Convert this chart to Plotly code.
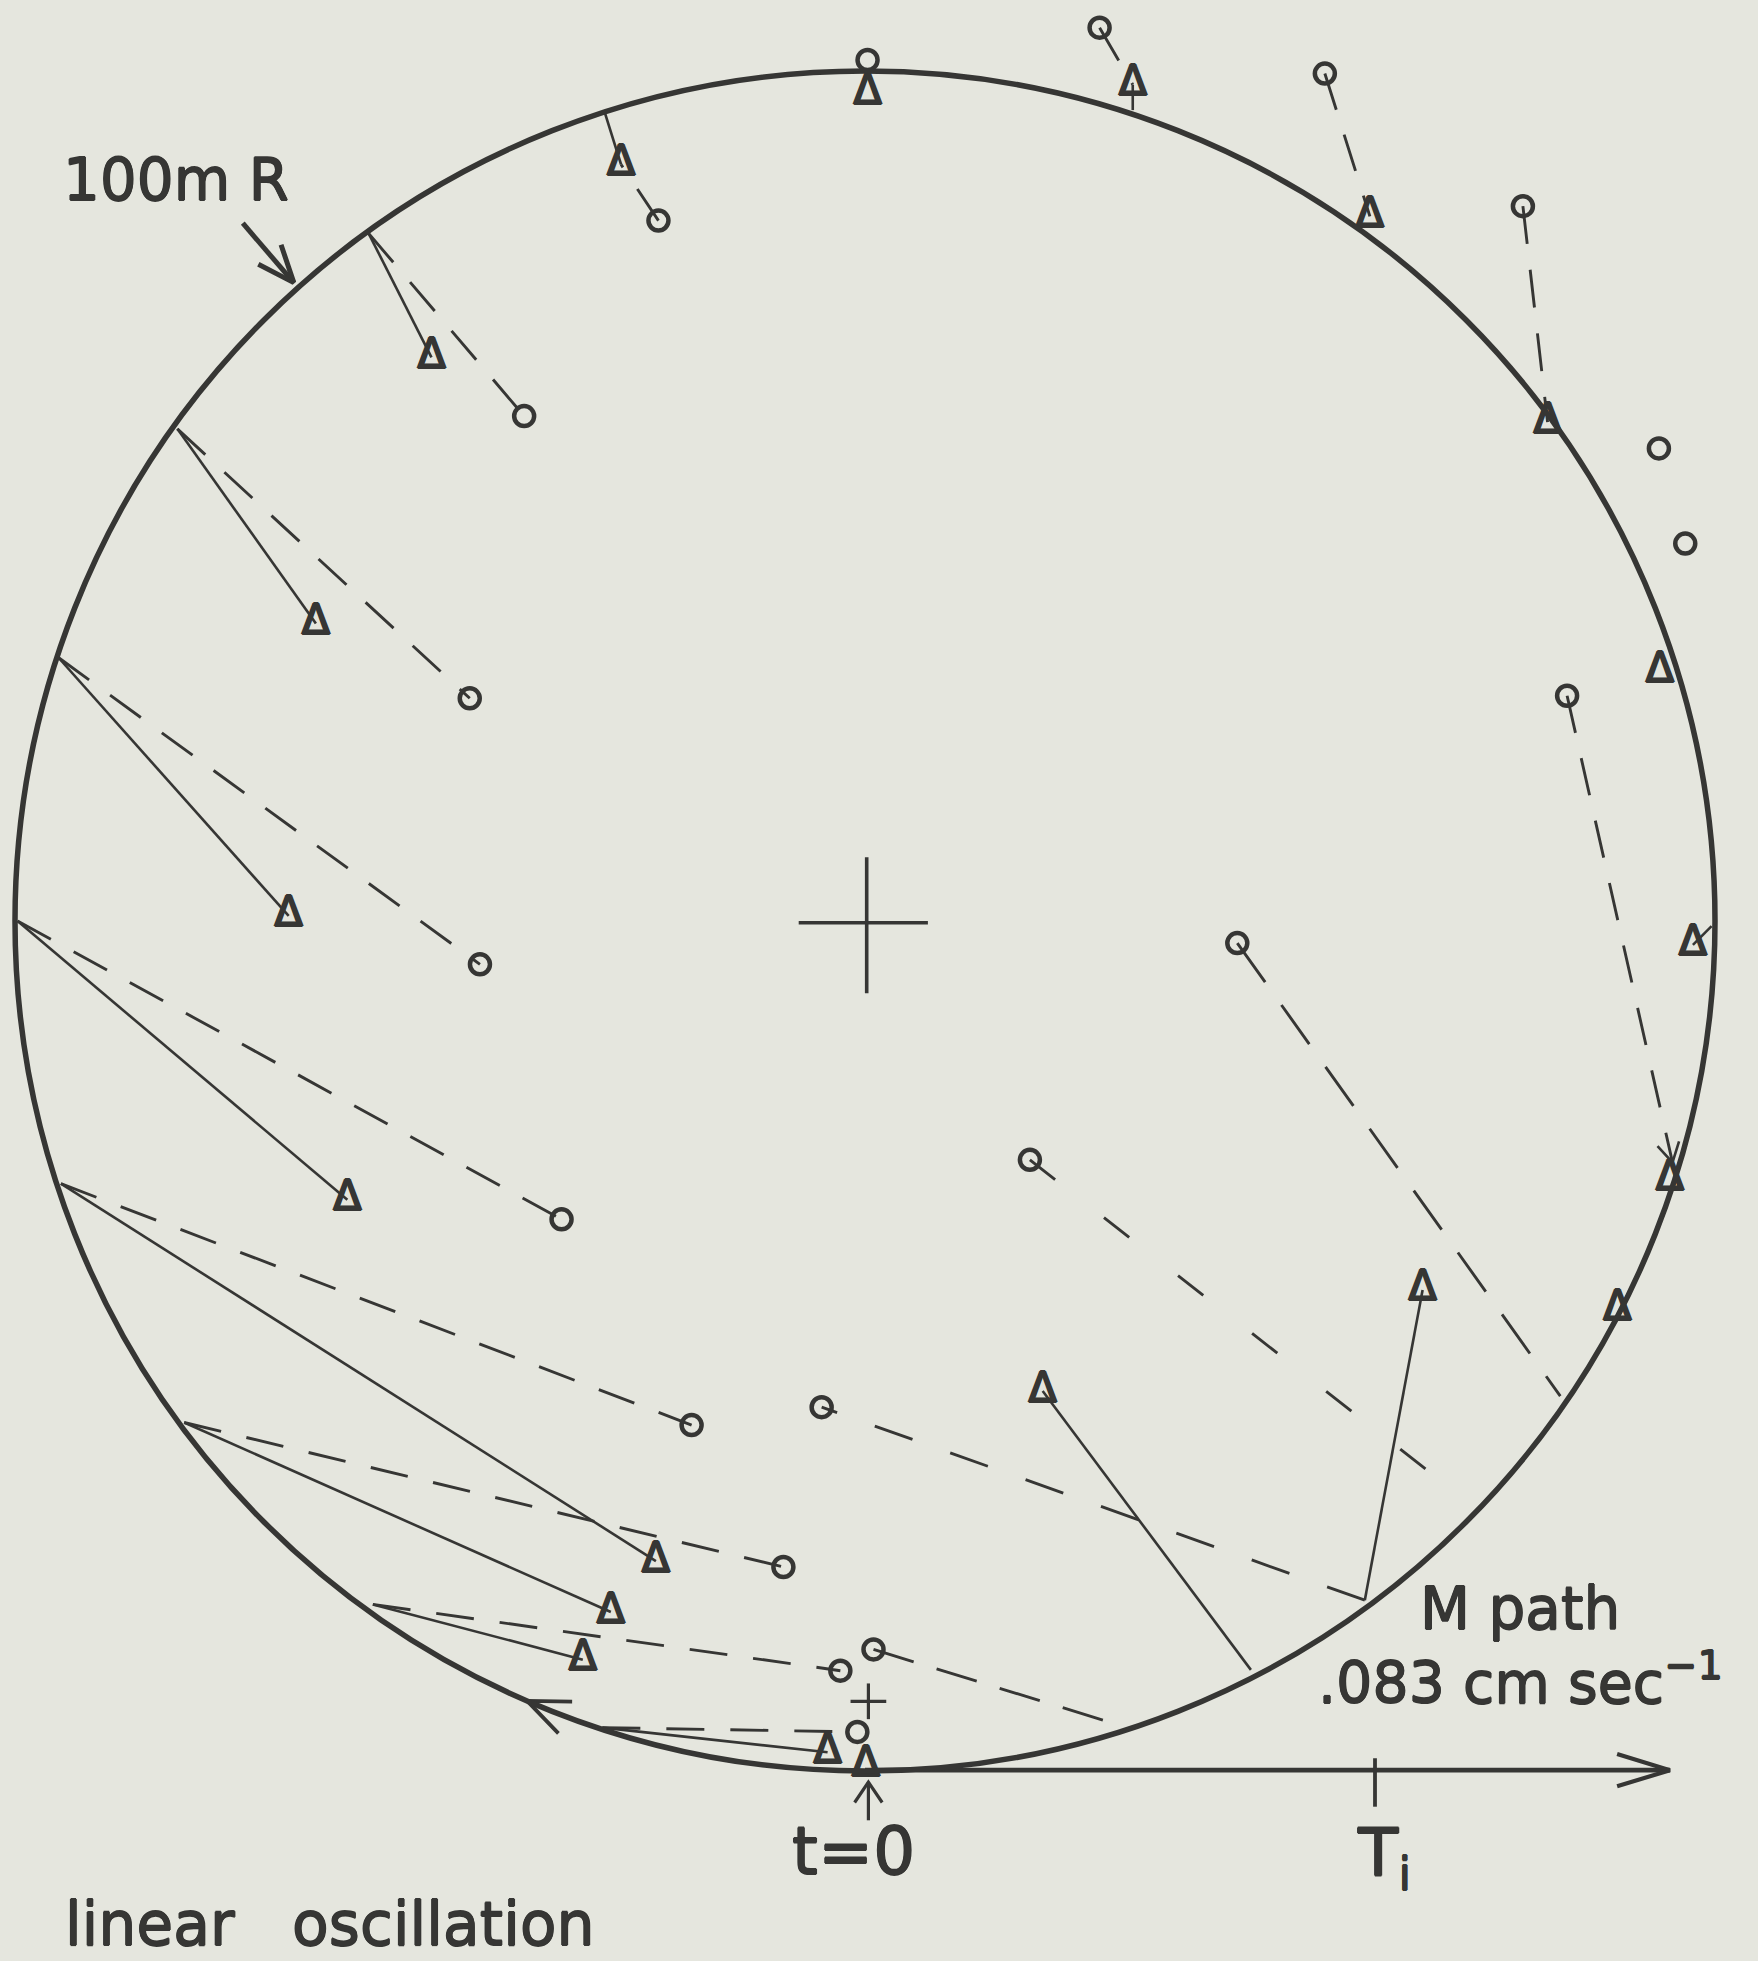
import math
import plotly.graph_objects as go

# ---------------------------------------------------------------------------
# Positions in metres, measured from the centre of the 100 m inertial circle
# ---------------------------------------------------------------------------
circle_radius = 100.0

# observed positions (o)
obs_x = [0.3, 27.6, 54.1, 77.4, 93.4, 96.5, 82.6, 43.8, 19.4, -5.1, 1.0, -2.9, -0.9,
         -24.3, -40.1, -46.5, -45.3, -35.7, -20.4, -9.6]
obs_y = [101.3, 105.1, 99.7, 84.1, 55.6, 44.4, 26.5, -2.6, -28.1, -57.2, -85.7, -88.2, -95.4,
         82.4, 59.4, 26.2, -5.1, -35.1, -59.3, -76.0]

# predicted positions (triangles); index 11 is the t = 0 point
pred_x = [0.3, 31.5, 59.4, 80.3, 93.5, 97.4, 94.7, 88.5, 65.6, 20.9, -4.4, 0.1,
          -28.7, -51.0, -64.6, -67.8, -60.9, -24.6, -29.9, -33.2]
pred_y = [97.4, 98.4, 82.9, 58.7, 29.4, -2.8, -30.4, -45.7, -43.4, -55.3, -97.8, -99.4,
          89.0, 66.3, 35.0, 0.6, -32.8, -75.3, -81.3, -86.9]

# release points on the circle, with the predicted / observed position each one leads to
release_x = [31.5, 99.6, 58.8, 45.4, -30.7, -58.4, -80.9, -94.9, -99.7, -94.6, -80.1, -57.9, -30.9]
release_y = [95.4, -0.6, -79.9, -88.1, 95.4, 80.9, 57.9, 31.0, 0.0, -30.9, -59.0, -80.4, -94.9]
release_pred = [1, 5, 8, 9, 12, 13, 14, 15, 16, 17, 18, 19, 10]
release_obs = [None, None, 9, None, None, 14, 15, 16, 17, 18, 19, 11, 12]

# dashed links observed -> predicted (obs index, pred index)
obs_pred_links = [(1, 1), (2, 2), (3, 3), (13, 12)]

# dashed tracks from observed positions back to the circle
track_obs = [6, 7, 8, 10]
track_end_x = [95.0, 81.8, 69.7, 29.9]
track_end_y = [-28.4, -55.9, -67.4, -94.6]

# mean (M) path along the bottom tangent, starting at t = 0
m_path_y = -99.9
m_path_start = 0.0
m_path_end = 94.7
inertial_period_x = 60.0

# small reference cross above t = 0
small_cross = (0.4, -91.8)

# ---------------------------------------------------------------------------
# Styling
# ---------------------------------------------------------------------------
BG = "#e5e6de"
INK = "#363634"
FONT = "DejaVu Sans"
PX_PER_M = 8.5
CENTRE_PX = (865, 921)
FIG_W, FIG_H = 1758, 1961


def thicken(px):
    return ", ".join(f"{dx}px {dy}px 0 {INK}" for dx, dy in
                     ((px, 0), (-px, 0), (0, px), (0, -px)))


default_dash = "38px,26px"
release_obs_dash = {2: "40px,40px"}
track_dash = {7: "48px,28px", 8: "32px,62px", 10: "42px,24px"}

fig = go.Figure()


def add_segments(xs0, ys0, xs1, ys1, width, dash="solid"):
    xs, ys = [], []
    for a, b, c, d in zip(xs0, ys0, xs1, ys1):
        xs += [a, c, None]
        ys += [b, d, None]
    fig.add_trace(go.Scatter(x=xs, y=ys, mode="lines", hoverinfo="skip",
                             line=dict(color=INK, width=width, dash=dash)))


def arrow_head(tip_x, tip_y, dx, dy, length, half_angle, width):
    n = math.hypot(dx, dy)
    ux, uy = dx / n, dy / n
    xs, ys = [], []
    for s in (1, -1):
        a = math.radians(half_angle) * s
        bx = -ux * math.cos(a) + uy * math.sin(a)
        by = -ux * math.sin(a) - uy * math.cos(a)
        xs.append(tip_x + length * bx)
        ys.append(tip_y + length * by)
    fig.add_trace(go.Scatter(x=[xs[0], tip_x, xs[1]], y=[ys[0], tip_y, ys[1]],
                             mode="lines", hoverinfo="skip",
                             line=dict(color=INK, width=width)))


# solid tracks: release point -> predicted position
add_segments(release_x, release_y,
             [pred_x[i] for i in release_pred], [pred_y[i] for i in release_pred], 2.6)

# dashed tracks: release point -> observed position
for k, j in enumerate(release_obs):
    if j is None:
        continue
    add_segments([release_x[k]], [release_y[k]], [obs_x[j]], [obs_y[j]], 2.9,
                 release_obs_dash.get(k, default_dash))

# dashed links observed -> predicted
for j, i in obs_pred_links:
    add_segments([obs_x[j]], [obs_y[j]], [pred_x[i]], [pred_y[i]], 2.9, default_dash)

# dashed tracks observed -> circle
for j, ex, ey in zip(track_obs, track_end_x, track_end_y):
    add_segments([obs_x[j]], [obs_y[j]], [ex], [ey], 2.9, track_dash.get(j, default_dash))

# small head where the first dashed track meets the circle
j0 = track_obs[0]
arrow_head(track_end_x[0], track_end_y[0],
           track_end_x[0] - obs_x[j0], track_end_y[0] - obs_y[j0], 2.6, 30, 2.6)

# centre cross
add_segments([-7.8, 0.2], [-0.2, 7.5], [7.4, 0.2], [-0.2, -8.5], 3.6)
# small cross
cx, cy = small_cross
add_segments([cx - 2.1, cx], [cy, cy + 2.1], [cx + 2.1, cx], [cy, cy - 2.1], 3.2)

# M path axis with the inertial period tick
add_segments([m_path_start], [m_path_y], [m_path_end], [m_path_y], 4.8)
arrow_head(m_path_end, m_path_y, 1, 0, 6.5, 17, 4.2)
add_segments([inertial_period_x], [m_path_y + 1.4], [inertial_period_x], [m_path_y - 4.3], 3.8)

# arrow marking t = 0
add_segments([pred_x[11] + 0.3], [-105.8], [pred_x[11] + 0.3], [-101.3], 3.2)
arrow_head(pred_x[11] + 0.3, -101.3, 0, 1, 2.9, 34, 3.2)

# direction of motion on the circle
ang = math.atan2(-91.4, -39.6)
tip = (circle_radius * math.cos(ang), circle_radius * math.sin(ang))
arrow_head(tip[0], tip[1], math.sin(ang), -math.cos(ang), 5.3, 22.5, 3.8)

# "100m R" pointer
add_segments([-73.2], [82.1], [-67.2], [75.1], 5.0)
arrow_head(-67.2, 75.1, 6.0, -7.0, 4.7, 22, 5.0)

# observed positions
fig.add_trace(go.Scatter(x=obs_x, y=obs_y, mode="markers", hoverinfo="skip",
                         marker=dict(symbol="circle-open", size=20, color=INK,
                                     line=dict(color=INK, width=4.5))))

# predicted positions
fig.add_trace(go.Scatter(x=pred_x, y=pred_y, mode="text", text=["Δ"] * len(pred_x),
                         textposition="middle center", hoverinfo="skip",
                         textfont=dict(family=FONT, size=42, color=INK,
                                       shadow=thicken(1))))

# the 100 m circle
fig.add_shape(type="circle", xref="x", yref="y",
              x0=-circle_radius, y0=-circle_radius, x1=circle_radius, y1=circle_radius,
              line=dict(color=INK, width=5.5), layer="above")


def label(text, x, y, size, xanchor="left"):
    fig.add_annotation(text=text, x=x, y=y, xref="x", yref="y", showarrow=False,
                       xanchor=xanchor, yanchor="middle",
                       font=dict(family=FONT, size=size, color=INK,
                                 shadow=thicken(0.7)))


label("100m R", -94.6, 87.2, 58)
label("t=0", -1.3, -109.5, 66, xanchor="center")
label("T<sub>i</sub>", 57.6, -110.2, 66)
label("M path", 65.0, -80.9, 58)
label(".083 cm sec<sup>−1</sup>", 53.1, -89.2, 57)
label("linear   oscillation", -94.4, -118.0, 60)

x_lo = -CENTRE_PX[0] / PX_PER_M
x_hi = (FIG_W - CENTRE_PX[0]) / PX_PER_M
y_hi = CENTRE_PX[1] / PX_PER_M
y_lo = (CENTRE_PX[1] - FIG_H) / PX_PER_M

fig.update_layout(
    width=FIG_W, height=FIG_H, autosize=False,
    margin=dict(l=0, r=0, t=0, b=0, pad=0),
    paper_bgcolor=BG, plot_bgcolor=BG, showlegend=False,
    xaxis=dict(range=[x_lo, x_hi], visible=False, fixedrange=True),
    yaxis=dict(range=[y_lo, y_hi], visible=False, fixedrange=True),
)

fig.write_html("out.html", config={"displayModeBar": False})
